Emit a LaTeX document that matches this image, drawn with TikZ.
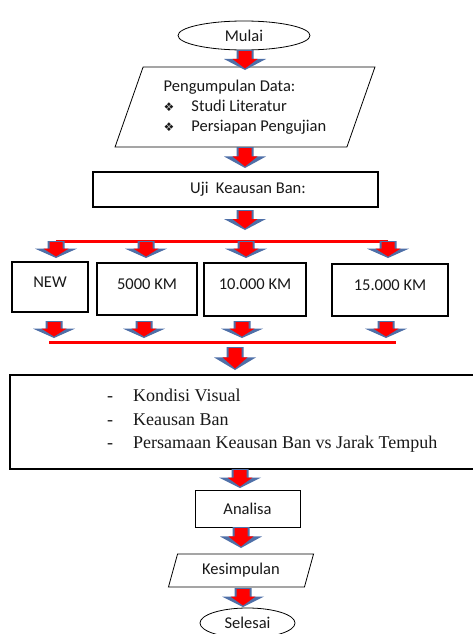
\documentclass[tikz,border=0pt]{standalone}
\usepackage{fontspec}
\setmainfont{Carlito}
\newfontfamily\timesf{Liberation Serif}
\newfontfamily\dejavu{DejaVu Sans}
\usetikzlibrary{shapes.geometric}
\definecolor{arrblue}{RGB}{79,112,168}
\definecolor{lred}{RGB}{255,0,0}
\newcommand{\bul}{{\dejavu\fontsize{12}{12}\selectfont ❖}}
\tikzset{
  base/.style={font=\fontsize{16.5}{20}\selectfont, inner sep=0pt, text=black!90},
  oval/.style={base, draw, ellipse, line width=0.8pt},
  thinbox/.style={base, draw, rectangle, line width=0.8pt},
  midbox/.style={base, draw, rectangle, line width=1.2pt},
  boldbox/.style={base, draw, rectangle, line width=1.7pt},
  kmbox/.style={boldbox, text height=10pt, text depth=10pt},
  slanted/.style={base, draw, trapezium, trapezium stretches=true, line width=0.8pt},
  redbar/.style={lred, line width=3pt},
  barrow/.pic={
    \fill[arrblue] (-8.5,0) -- (8.5,0) -- (8.5,{0.45*#1}) -- (21,{0.45*#1}) -- (0,#1)
      -- (-21,{0.45*#1}) -- (-8.5,{0.45*#1}) -- cycle;
    \fill[lred] (-6.5,1.2) -- (6.5,1.2) -- (6.5,{0.45*#1}) -- (12.5,{0.45*#1})
      -- (0,{#1-1.5}) -- (-12.5,{0.45*#1}) -- (-6.5,{0.45*#1}) -- cycle;
  }
}
\begin{document}
\begin{tikzpicture}[x=1pt,y=-1pt]
\useasboundingbox (0,0) rectangle (473,634);
\fill[white] (0,0) rectangle (473,634);

% nodes
\node[oval, minimum width=132, minimum height=29] (mulai) at (244,35.5) {Mulai};
\node[slanted, trapezium left angle=67.6, trapezium right angle=112.4,
      minimum width=260, minimum height=80, align=left] (data) at (245,107)
  {Pengumpulan Data:\\\bul\hspace{17pt}Studi Literatur\\\bul\hspace{17pt}Persiapan Pengujian};
\node[midbox, minimum width=285, minimum height=35] (uji) at (235.5,189.5)
  {\hspace{25pt}Uji\ \ Keausan Ban:};

\node[kmbox, minimum width=76, minimum height=50] (new) at (50,287) {NEW};
\node[kmbox, minimum width=100, minimum height=52] (k5) at (147,289) {5000 KM};
\node[kmbox, minimum width=102, minimum height=53] (k10) at (255,289.5) {10.000 KM};
\node[kmbox, minimum width=116, minimum height=52] (k15) at (390,290) {15.000 KM};

\node[boldbox, minimum width=468, minimum height=94, anchor=north west] (big) at (9,374) {};
\node[anchor=west, align=left, inner sep=0pt, text=black!90, font=\timesf\fontsize{18}{23.5}\selectfont] (bigtext) at (107,421)
  {\makebox[26pt][l]{-}Kondisi Visual\\\makebox[26pt][l]{-}Keausan Ban\\\makebox[26pt][l]{-}Persamaan Keausan Ban vs Jarak Tempuh};

\node[thinbox, minimum width=105, minimum height=37] (analisa) at (247.5,508.5) {Analisa};
\node[slanted, trapezium left angle=68.5, trapezium right angle=111.5,
      minimum width=146, minimum height=33] (kes) at (241,570.5) {Kesimpulan};
\node[oval, minimum width=95, minimum height=30] (selesai) at (247.5,623) {Selesai};

% red distribution bars
\coordinate (tl) at (56,241);
\coordinate (tr) at (388,241);
\coordinate (bl) at (49,342);
\coordinate (br) at (396,342);
\draw[redbar] (tl) -- (tr);
\draw[redbar] (bl) -- (br);

% block arrows
\pic at (245,50) {barrow=20};
\pic at (245,147) {barrow=21};
\pic at (245,210) {barrow=20};
\pic at (56,241) {barrow=17};
\pic at (146,241) {barrow=17};
\pic at (246,241) {barrow=17};
\pic at (388,241) {barrow=17};
\pic at (54,321) {barrow=17};
\pic at (144,321) {barrow=17};
\pic at (242,321) {barrow=17};
\pic at (386,321) {barrow=17};
\pic at (235,347) {barrow=23};
\pic at (240,469) {barrow=19};
\pic at (241,527) {barrow=21};
\pic at (243,588) {barrow=19};
\end{tikzpicture}
\end{document}
